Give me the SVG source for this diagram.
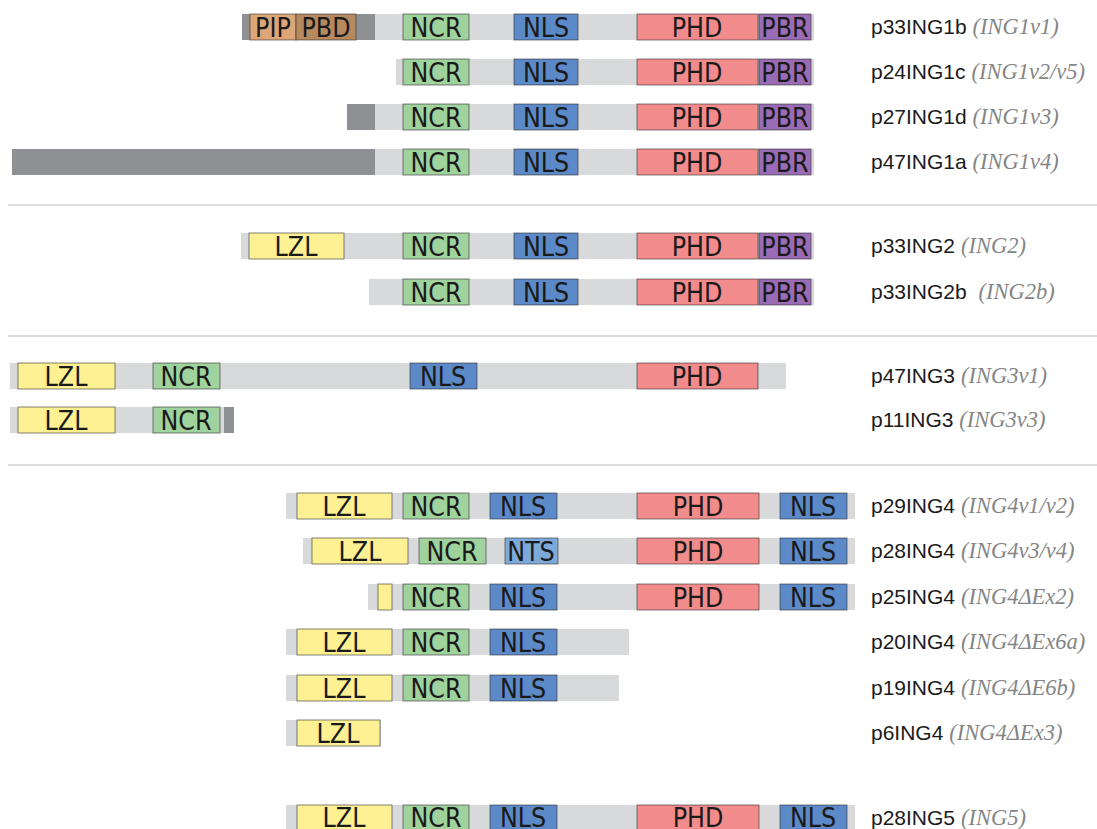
<svg xmlns="http://www.w3.org/2000/svg" width="1097" height="829" viewBox="0 0 1097 829">
<style>
.bar{fill:#d7d9db}
.dk{fill:#8e9093}
.box{stroke:#2e2e2e;stroke-opacity:.6;stroke-width:1}
.pip{fill:#dca678}
.pbd{fill:#b7895e}
.ncr{fill:#9fd29d}
.nls{fill:#5c89c8}
.nts{fill:#7eaadb}
.phd{fill:#f28b8b}
.pbr{fill:#9a6cb5}
.lzl{fill:#fdf193}
.dt{font-family:"DejaVu Sans Condensed","Liberation Sans Narrow","Liberation Sans",sans-serif;font-stretch:condensed;font-size:26.5px;fill:#1a1a1a;text-anchor:middle}
.lb{font-family:"Liberation Sans","Noto Sans",sans-serif;font-size:21px;fill:#1a1a1a}
.it{font-family:"Liberation Serif",serif;font-style:italic;fill:#858585;font-size:22.5px}
.sep{stroke:#d2d2d2;stroke-width:1.5}
</style>
<rect width="1097" height="829" fill="#ffffff"/>
<g id="separators">
<line class="sep" x1="8" y1="205" x2="1097" y2="205"/>
<line class="sep" x1="8" y1="336" x2="1097" y2="336"/>
<line class="sep" x1="8" y1="465" x2="1097" y2="465"/>
</g>

<g id="p33ING1b">
<rect class="bar" x="375" y="14" width="439" height="26"/>
<rect class="dk" x="242" y="14" width="133" height="26"/>
<rect class="pip box" x="250" y="14" width="46" height="26"/><text class="dt" x="273" y="36.5">PIP</text>
<rect class="pbd box" x="296" y="14" width="60" height="26"/><text class="dt" x="326" y="36.5">PBD</text>
<rect class="ncr box" x="403" y="14" width="66" height="26"/><text class="dt" x="436" y="36.5">NCR</text>
<rect class="nls box" x="514" y="14" width="64" height="26"/><text class="dt" x="546" y="36.5">NLS</text>
<rect class="phd box" x="637" y="14" width="121" height="26"/><text class="dt" x="697" y="36.5">PHD</text>
<rect class="pbr box" x="759" y="14" width="52" height="26"/><text class="dt" x="785" y="36.5">PBR</text>
<text class="lb" x="871" y="34">p33ING1b <tspan class="it">(ING1v1)</tspan></text>
</g>

<g id="p24ING1c">
<rect class="bar" x="396" y="59" width="418" height="26"/>
<rect class="ncr box" x="403" y="59" width="66" height="26"/><text class="dt" x="436" y="81.5">NCR</text>
<rect class="nls box" x="514" y="59" width="64" height="26"/><text class="dt" x="546" y="81.5">NLS</text>
<rect class="phd box" x="637" y="59" width="121" height="26"/><text class="dt" x="697" y="81.5">PHD</text>
<rect class="pbr box" x="759" y="59" width="52" height="26"/><text class="dt" x="785" y="81.5">PBR</text>
<text class="lb" x="871" y="79">p24ING1c <tspan class="it">(ING1v2/v5)</tspan></text>
</g>

<g id="p27ING1d">
<rect class="bar" x="375" y="104" width="439" height="26"/>
<rect class="dk" x="347" y="104" width="28" height="26"/>
<rect class="ncr box" x="403" y="104" width="66" height="26"/><text class="dt" x="436" y="126.5">NCR</text>
<rect class="nls box" x="514" y="104" width="64" height="26"/><text class="dt" x="546" y="126.5">NLS</text>
<rect class="phd box" x="637" y="104" width="121" height="26"/><text class="dt" x="697" y="126.5">PHD</text>
<rect class="pbr box" x="759" y="104" width="52" height="26"/><text class="dt" x="785" y="126.5">PBR</text>
<text class="lb" x="871" y="124">p27ING1d <tspan class="it">(ING1v3)</tspan></text>
</g>

<g id="p47ING1a">
<rect class="bar" x="375" y="149" width="439" height="26"/>
<rect class="dk" x="12" y="149" width="363" height="26"/>
<rect class="ncr box" x="403" y="149" width="66" height="26"/><text class="dt" x="436" y="171.5">NCR</text>
<rect class="nls box" x="514" y="149" width="64" height="26"/><text class="dt" x="546" y="171.5">NLS</text>
<rect class="phd box" x="637" y="149" width="121" height="26"/><text class="dt" x="697" y="171.5">PHD</text>
<rect class="pbr box" x="759" y="149" width="52" height="26"/><text class="dt" x="785" y="171.5">PBR</text>
<text class="lb" x="871" y="169">p47ING1a <tspan class="it">(ING1v4)</tspan></text>
</g>

<g id="p33ING2">
<rect class="bar" x="241" y="233" width="573" height="26"/>
<rect class="lzl box" x="249" y="233" width="95" height="26"/><text class="dt" x="296" y="255.5">LZL</text>
<rect class="ncr box" x="403" y="233" width="66" height="26"/><text class="dt" x="436" y="255.5">NCR</text>
<rect class="nls box" x="514" y="233" width="64" height="26"/><text class="dt" x="546" y="255.5">NLS</text>
<rect class="phd box" x="637" y="233" width="121" height="26"/><text class="dt" x="697" y="255.5">PHD</text>
<rect class="pbr box" x="759" y="233" width="52" height="26"/><text class="dt" x="785" y="255.5">PBR</text>
<text class="lb" x="871" y="253">p33ING2 <tspan class="it">(ING2)</tspan></text>
</g>

<g id="p33ING2b">
<rect class="bar" x="369" y="279" width="445" height="26"/>
<rect class="ncr box" x="403" y="279" width="66" height="26"/><text class="dt" x="436" y="301.5">NCR</text>
<rect class="nls box" x="514" y="279" width="64" height="26"/><text class="dt" x="546" y="301.5">NLS</text>
<rect class="phd box" x="637" y="279" width="121" height="26"/><text class="dt" x="697" y="301.5">PHD</text>
<rect class="pbr box" x="759" y="279" width="52" height="26"/><text class="dt" x="785" y="301.5">PBR</text>
<text class="lb" x="871" y="299" xml:space="preserve">p33ING2b  <tspan class="it">(ING2b)</tspan></text>
</g>

<g id="p47ING3">
<rect class="bar" x="10" y="363" width="776" height="26"/>
<rect class="lzl box" x="18" y="363" width="97" height="26"/><text class="dt" x="66" y="385.5">LZL</text>
<rect class="ncr box" x="153" y="363" width="67" height="26"/><text class="dt" x="186" y="385.5">NCR</text>
<rect class="nls box" x="410" y="363" width="67" height="26"/><text class="dt" x="443" y="385.5">NLS</text>
<rect class="phd box" x="637" y="363" width="121" height="26"/><text class="dt" x="697" y="385.5">PHD</text>
<text class="lb" x="871" y="383">p47ING3 <tspan class="it">(ING3v1)</tspan></text>
</g>

<g id="p11ING3">
<rect class="bar" x="10" y="407" width="214" height="26"/>
<rect class="dk" x="224" y="407" width="10" height="26"/>
<rect class="lzl box" x="18" y="407" width="97" height="26"/><text class="dt" x="66" y="429.5">LZL</text>
<rect class="ncr box" x="153" y="407" width="67" height="26"/><text class="dt" x="186" y="429.5">NCR</text>
<text class="lb" x="871" y="427">p11ING3 <tspan class="it">(ING3v3)</tspan></text>
</g>

<g id="p29ING4">
<rect class="bar" x="286" y="493" width="569" height="26"/>
<rect class="lzl box" x="297" y="493" width="95" height="26"/><text class="dt" x="344" y="515.5">LZL</text>
<rect class="ncr box" x="403" y="493" width="66" height="26"/><text class="dt" x="436" y="515.5">NCR</text>
<rect class="nls box" x="490" y="493" width="67" height="26"/><text class="dt" x="523" y="515.5">NLS</text>
<rect class="phd box" x="637" y="493" width="122" height="26"/><text class="dt" x="698" y="515.5">PHD</text>
<rect class="nls box" x="780" y="493" width="67" height="26"/><text class="dt" x="813" y="515.5">NLS</text>
<text class="lb" x="871" y="513">p29ING4 <tspan class="it">(ING4v1/v2)</tspan></text>
</g>

<g id="p28ING4">
<rect class="bar" x="303" y="538" width="552" height="26"/>
<rect class="lzl box" x="312" y="538" width="96" height="26"/><text class="dt" x="360" y="560.5">LZL</text>
<rect class="ncr box" x="419" y="538" width="67" height="26"/><text class="dt" x="452" y="560.5">NCR</text>
<rect class="nts box" x="505" y="538" width="53" height="26"/><text class="dt" x="531" y="560.5">NTS</text>
<rect class="phd box" x="637" y="538" width="122" height="26"/><text class="dt" x="698" y="560.5">PHD</text>
<rect class="nls box" x="780" y="538" width="67" height="26"/><text class="dt" x="813" y="560.5">NLS</text>
<text class="lb" x="871" y="558">p28ING4 <tspan class="it">(ING4v3/v4)</tspan></text>
</g>

<g id="p25ING4">
<rect class="bar" x="368" y="584" width="487" height="26"/>
<rect class="lzl box" x="378" y="584" width="14" height="26"/>
<rect class="ncr box" x="403" y="584" width="66" height="26"/><text class="dt" x="436" y="606.5">NCR</text>
<rect class="nls box" x="490" y="584" width="67" height="26"/><text class="dt" x="523" y="606.5">NLS</text>
<rect class="phd box" x="637" y="584" width="122" height="26"/><text class="dt" x="698" y="606.5">PHD</text>
<rect class="nls box" x="780" y="584" width="67" height="26"/><text class="dt" x="813" y="606.5">NLS</text>
<text class="lb" x="871" y="604">p25ING4 <tspan class="it">(ING4ΔEx2)</tspan></text>
</g>

<g id="p20ING4">
<rect class="bar" x="286" y="629" width="343" height="26"/>
<rect class="lzl box" x="297" y="629" width="95" height="26"/><text class="dt" x="344" y="651.5">LZL</text>
<rect class="ncr box" x="403" y="629" width="66" height="26"/><text class="dt" x="436" y="651.5">NCR</text>
<rect class="nls box" x="490" y="629" width="67" height="26"/><text class="dt" x="523" y="651.5">NLS</text>
<text class="lb" x="871" y="649">p20ING4 <tspan class="it">(ING4ΔEx6a)</tspan></text>
</g>

<g id="p19ING4">
<rect class="bar" x="286" y="675" width="333" height="26"/>
<rect class="lzl box" x="297" y="675" width="95" height="26"/><text class="dt" x="344" y="697.5">LZL</text>
<rect class="ncr box" x="403" y="675" width="66" height="26"/><text class="dt" x="436" y="697.5">NCR</text>
<rect class="nls box" x="490" y="675" width="67" height="26"/><text class="dt" x="523" y="697.5">NLS</text>
<text class="lb" x="871" y="695">p19ING4 <tspan class="it">(ING4ΔE6b)</tspan></text>
</g>

<g id="p6ING4">
<rect class="bar" x="286" y="720" width="95" height="26"/>
<rect class="lzl box" x="297" y="720" width="83" height="26"/><text class="dt" x="338" y="742.5">LZL</text>
<text class="lb" x="871" y="740">p6ING4 <tspan class="it">(ING4ΔEx3)</tspan></text>
</g>

<g id="p28ING5">
<rect class="bar" x="286" y="805" width="569" height="26"/>
<rect class="lzl box" x="297" y="805" width="95" height="26"/><text class="dt" x="344" y="827">LZL</text>
<rect class="ncr box" x="403" y="805" width="66" height="26"/><text class="dt" x="436" y="827">NCR</text>
<rect class="nls box" x="490" y="805" width="67" height="26"/><text class="dt" x="523" y="827">NLS</text>
<rect class="phd box" x="637" y="805" width="122" height="26"/><text class="dt" x="698" y="827">PHD</text>
<rect class="nls box" x="780" y="805" width="67" height="26"/><text class="dt" x="813" y="827">NLS</text>
<text class="lb" x="871" y="825">p28ING5 <tspan class="it">(ING5)</tspan></text>
</g>
</svg>
